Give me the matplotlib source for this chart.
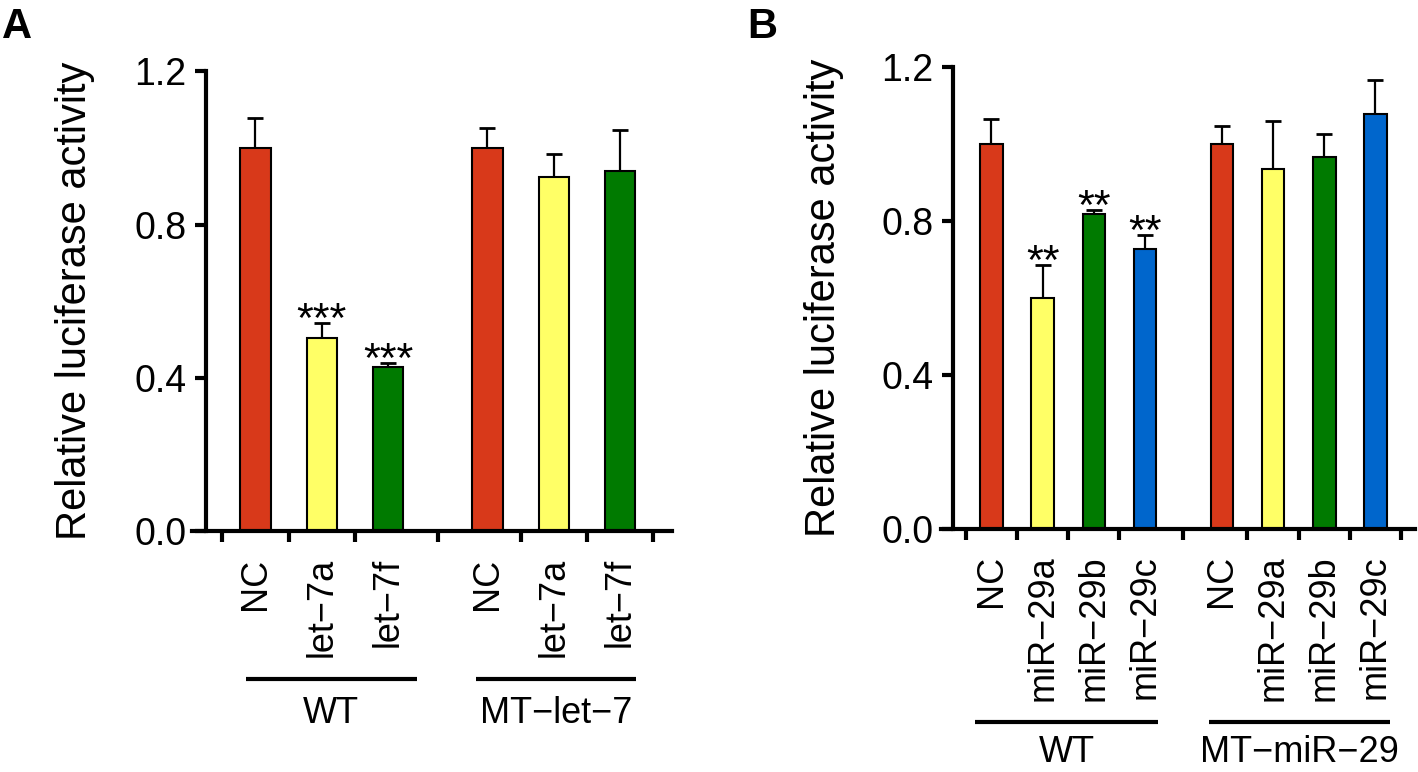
import matplotlib.pyplot as plt
from matplotlib.transforms import blended_transform_factory

plt.rcParams['font.family'] = ['Liberation Sans', 'DejaVu Sans']

# Panel A: let-7 reporter
a_labels = ['NC', 'let\u22127a', 'let\u22127f', 'NC', 'let\u22127a', 'let\u22127f']
a_values = [1.00, 0.505, 0.428, 1.00, 0.924, 0.940]
a_upper = [1.077, 0.543, 0.438, 1.051, 0.985, 1.046]   # top of error bar
a_stars = ['', '***', '***', '', '', '']
a_groups = ['WT', 'MT\u2212let\u22127']
a_colors = ['#d8391a', '#ffff66', '#007a00'] * 2

# Panel B: miR-29 reporter
b_labels = ['NC', 'miR\u221229a', 'miR\u221229b', 'miR\u221229c'] * 2
b_values = [1.00, 0.600, 0.817, 0.727, 1.00, 0.933, 0.966, 1.076]
b_upper = [1.064, 0.684, 0.828, 0.762, 1.046, 1.058, 1.026, 1.165]
b_stars = ['', '**', '**', '**', '', '', '', '']
b_groups = ['WT', 'MT\u2212miR\u221229']
b_colors = ['#d8391a', '#ffff66', '#007a00', '#0066cc'] * 2

yticks = [0.0, 0.4, 0.8, 1.2]


def draw_panel(fig, rect, xlim, width, labels, values, upper, stars, groups,
               colors, spans, line_y, text_y):
    ''' Draw one bar panel with upper error bars, stars and group lines '''
    ax = fig.add_axes(rect)
    n = len(values) // 2
    pos = list(range(n)) + [n + 0.5 + i for i in range(n)]
    err = [[0] * len(values), [u - v for u, v in zip(upper, values)]]
    ax.bar(pos, values, width=width, color=colors, edgecolor='black',
           linewidth=1.5, zorder=2)
    ax.errorbar(pos, values, yerr=err, fmt='none', ecolor='black',
                elinewidth=1.6, capsize=5.5, capthick=2, zorder=1)
    for x, u, s in zip(pos, upper, stars):
        if s:
            ax.annotate(s, xy=(x, u), xytext=(0, 11.5 - 0.575 * 31),
                        textcoords='offset points', ha='center',
                        va='baseline', fontsize=31)

    ax.set_xlim(*xlim)
    ax.set_ylim(0, 1.2)
    for side in ['top', 'right']:
        ax.spines[side].set_visible(False)
    ax.spines['left'].set_position(('data', -0.75))
    for side in ['left', 'bottom']:
        ax.spines[side].set_linewidth(3)

    ax.set_yticks(yticks)
    ax.set_yticklabels(['%.1f' % t for t in yticks])
    ax.tick_params(axis='y', length=8, width=3, pad=6, labelsize=27)

    ax.set_xticks(pos)
    ax.set_xticklabels(labels, rotation=90)
    ax.tick_params(axis='x', which='major', length=0, pad=19, labelsize=26)
    edges = [i - 0.5 for i in range(n)] + [n - 0.25] + [n + 1 + i for i in range(n)]
    ax.set_xticks(edges, minor=True)
    ax.tick_params(axis='x', which='minor', length=8, width=3)

    ax.set_ylabel('Relative luciferase activity', fontsize=30)
    ax.yaxis.set_label_coords(-0.203, 0.5)

    trans = blended_transform_factory(ax.transData, fig.transFigure)
    for (x0, x1), g in zip(spans, groups):
        ax.plot([x0, x1], [line_y, line_y], color='black', linewidth=3,
                transform=trans, clip_on=False, solid_capstyle='butt')
        ax.text((x0 + x1) / 2, text_y, g, transform=trans, ha='center',
                va='baseline', fontsize=26)
    return ax


def main():
    fig = plt.figure(figsize=(14.18, 7.72), dpi=100)
    draw_panel(fig, [0.13575, 0.31179, 0.3380, 0.59585], (-0.95, 6.28), 0.46,
               a_labels, a_values, a_upper, a_stars, a_groups, a_colors,
               [(-0.15, 2.43), (3.32, 5.74)], 0.1209, 1 - 723 / 772)
    draw_panel(fig, [0.66347, 0.31503, 0.3347, 0.5986], (-0.99, 8.28), 0.44,
               b_labels, b_values, b_upper, b_stars, b_groups, b_colors,
               [(-0.32, 3.26), (4.24, 7.79)], 0.0652, 1 - 762 / 772)
    fig.text(2 / 1418, 1 - 7 / 772, 'A', fontsize=30, fontweight='bold', va='top')
    fig.text(747 / 1418, 1 - 7 / 772, 'B', fontsize=30, fontweight='bold', va='top')
    fig.savefig('out.png', dpi=100)


if __name__ == '__main__':
    main()
